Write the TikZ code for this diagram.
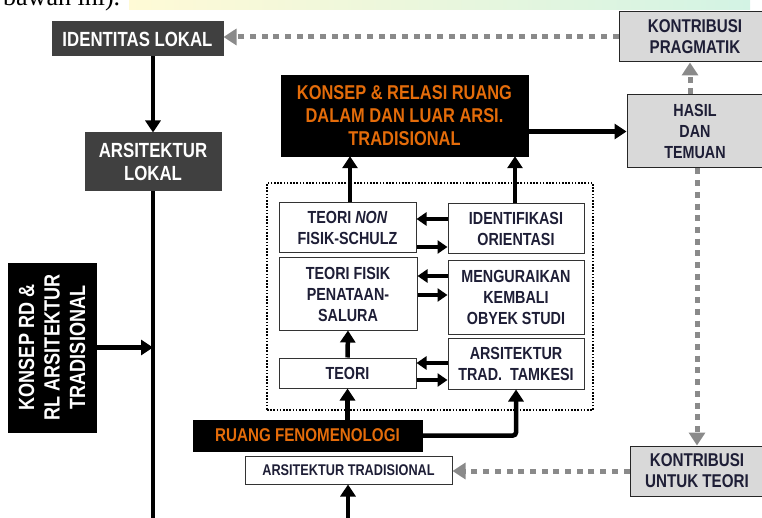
\documentclass[tikz,border=0pt]{standalone}
\usepackage{fontspec}
\usepackage{xcolor}
\setmainfont[FakeStretch=0.82]{Liberation Sans}
\newfontfamily\pagefont{Liberation Serif}
\usetikzlibrary{arrows.meta}

\definecolor{boxdark}{HTML}{404040}
\definecolor{boxgray}{HTML}{D9D9D9}
\definecolor{konseporange}{HTML}{E46C0A}
\definecolor{feedgray}{HTML}{8A8A8A}
\definecolor{textnavy}{HTML}{1E1E36}
\definecolor{stripyellow}{HTML}{FFFAD6}
\definecolor{stripgreen}{HTML}{D3F3E4}

\tikzset{
    darkbox/.style={draw=black!75, line width=1pt, fill=boxdark, text=white, align=center, inner sep=0pt,
        font=\bfseries\fontsize{20.5}{23}\selectfont},
    blackbox/.style={draw=black, fill=black, text=konseporange, align=center, inner sep=0pt,
        font=\bfseries\fontsize{20}{23}\selectfont},
    whitebox/.style={draw=black!80, line width=1pt, fill=white, text=textnavy, align=center, inner sep=0pt,
        font=\bfseries\fontsize{17.5}{21}\selectfont},
    graybox/.style={draw=black!85, line width=1pt, fill=boxgray, text=textnavy, align=center, inner sep=0pt,
        font=\bfseries\fontsize{17.5}{21}\selectfont},
    frame/.style={draw, line width=1.6pt, dash pattern=on 1.6pt off 1.6pt},
    flow/.style={line width=4.5pt, -{Triangle[length=12pt,width=15pt]}},
    pair/.style={line width=4pt, -{Triangle[length=10pt,width=13pt]}},
    feedback/.style={line width=5pt, feedgray, dash pattern=on 6pt off 5.7pt, -{Triangle[length=13pt,width=16pt]}}
}

\begin{document}
\begin{tikzpicture}[x=1pt, y=-1pt]
            \useasboundingbox (0,0) rectangle (762,518);
            \clip (0,0) rectangle (762,518);

            % Cut edge of the page above
            \shade[left color=stripyellow, right color=stripgreen] (129,-2) rectangle (750,10);
            \node[anchor=base west, inner sep=0pt, font=\pagefont\fontsize{26}{26}\selectfont]
                (pagetext) at (3,6) {bawah ini).};

            % Left column
            \node[darkbox, minimum width=171, minimum height=34]
                (idlok) at (137.5,39) {IDENTITAS LOKAL};
            \node[darkbox, minimum width=136, minimum height=58]
                (arslok) at (153,162) {ARSITEKTUR\\LOKAL};
            \node[blackbox, text=white, rotate=90, minimum width=169, minimum height=88,
                font=\bfseries\fontsize{22}{25.5}\selectfont]
                (konseprd) at (52,347.5) {KONSEP RD \&\\RL ARSITEKTUR\\TRADISIONAL};

            % Main result box
            \node[blackbox, minimum width=247, minimum height=81]
                (konsep) at (404.5,115.5) {KONSEP \& RELASI RUANG\\DALAM DAN LUAR ARSI.\\TRADISIONAL};

            % Dotted frame with the theories and the study steps
            \node[frame, minimum width=326, minimum height=227]
                (core) at (430,296.5) {};
            \node[whitebox, minimum width=137, minimum height=50]
                (tnon) at (347.5,228) {TEORI \textit{NON}\\FISIK-SCHULZ};
            \node[whitebox, minimum width=138, minimum height=72]
                (tfisik) at (348,294) {TEORI FISIK\\PENATAAN-\\SALURA};
            \node[whitebox, minimum width=137, minimum height=30]
                (teori) at (347.5,373) {TEORI};
            \node[whitebox, minimum width=136, minimum height=50]
                (ident) at (516,229) {IDENTIFIKASI\\ORIENTASI};
            \node[whitebox, minimum width=136, minimum height=73]
                (urai) at (516,297.5) {MENGURAIKAN\\KEMBALI\\OBYEK STUDI};
            \node[whitebox, minimum width=136, minimum height=51]
                (tamkesi) at (516,363.5) {ARSITEKTUR\\TRAD.~~TAMKESI};

            % Bottom boxes
            \node[blackbox, minimum width=229, minimum height=31, font=\bfseries\fontsize{18.5}{22}\selectfont]
                (ruang) at (307.5,435.5) {RUANG FENOMENOLOGI};
            \node[whitebox, minimum width=207, minimum height=28, font=\bfseries\fontsize{15.5}{18}\selectfont]
                (arstrad) at (348.5,470) {ARSITEKTUR TRADISIONAL};

            % Right column
            \node[graybox, minimum width=152, minimum height=50, font=\bfseries\fontsize{18.5}{21}\selectfont]
                (kprag) at (695,37) {KONTRIBUSI\\PRAGMATIK};
            \node[graybox, minimum width=136, minimum height=73]
                (hasil) at (695,131.5) {HASIL\\DAN\\TEMUAN};
            \node[graybox, minimum width=134, minimum height=50, font=\bfseries\fontsize{18.5}{21}\selectfont]
                (kteori) at (697,471) {KONTRIBUSI\\UNTUK TEORI};

            % Main flow
            \draw[flow] (arslok.north |- idlok.south) -- (arslok.north);
            \draw[flow] (konseprd.south) -- (konseprd.south -| arslok.south);
            \draw[flow] (arslok.south) -- (153,520) -- (348,520) -- (arstrad.south -| 348,0);
            \draw[flow] (teori.south |- ruang.north) -- (teori.south);
            \draw[flow] (teori.north) -- (tfisik.south);
            \draw[flow, rounded corners=3pt] (ruang.east) -| (tamkesi.south);
            \draw[flow] (tnon.north -| 350,0) -- (konsep.south -| 350,0);
            \draw[flow] (ident.north -| 515,0) -- (konsep.south -| 515,0);
            \draw[flow] (konsep.east |- hasil.west) -- (hasil.west);

            % Arrows between theories and study steps
            \draw[pair] ([yshift=10pt]ident.west) -- ([yshift=10pt]ident.west -| tnon.east);
            \draw[pair] ([yshift=-18pt]ident.west -| tnon.east) -- ([yshift=-18pt]ident.west);
            \draw[pair] ([yshift=21.5pt]urai.west) -- ([yshift=21.5pt]urai.west -| tfisik.east);
            \draw[pair] ([yshift=2.5pt]urai.west -| tfisik.east) -- ([yshift=2.5pt]urai.west);
            \draw[pair] ([yshift=0.5pt]tamkesi.west) -- ([yshift=0.5pt]tamkesi.west -| teori.east);
            \draw[pair] ([yshift=-16.5pt]tamkesi.west -| teori.east) -- ([yshift=-16.5pt]tamkesi.west);

            % Feedback of the results
            \draw[feedback] (kprag.west) -- (idlok.east |- kprag.west);
            \draw[feedback] (hasil.north -| 690,0) -- (kprag.south -| 690,0);
            \draw[feedback] (hasil.south -| 697,0) -- (kteori.north);
            \draw[feedback] (kteori.west) -- (arstrad.east |- kteori.west);
        \end{tikzpicture}
\end{document}
